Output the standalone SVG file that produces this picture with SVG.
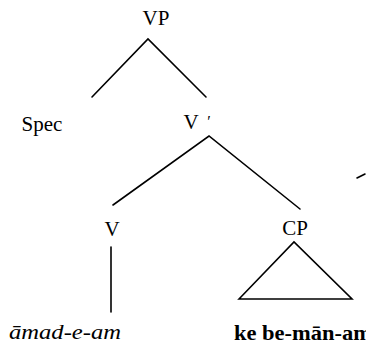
<svg xmlns="http://www.w3.org/2000/svg" width="366" height="348" viewBox="0 0 366 348">
<style>
text{font-family:"Liberation Serif","Times New Roman","DejaVu Serif",serif;font-size:21px;fill:#000}
.lbl{text-anchor:middle}
.it{font-style:italic}
.bd{font-weight:bold}
.e{stroke:#000;stroke-width:1.6;fill:none;stroke-linecap:round}
</style>
<rect width="366" height="348" fill="#fff"/>
<g id="connectors">
<path class="e" d="M92 97 L148 39 L206 97"/>
<path class="e" d="M113 205 L209 136 L300 209"/>
<path class="e" d="M111 247 L111 312"/>
<path class="e" d="M239 299 L294 242 L352 299 Z"/>
<path class="e" d="M357 178 L365 174"/>
</g>
<g id="VP"><text class="lbl" x="156" y="25">VP</text></g>
<g id="Spec"><text class="lbl" x="42" y="131">Spec</text></g>
<g id="Vbar"><text class="lbl" x="191" y="129">V</text><text class="lbl" x="209" y="127" style="font-size:16px">′</text></g>
<g id="V"><text class="lbl" x="112" y="236">V</text></g>
<g id="CP"><text class="lbl" x="295" y="235">CP</text></g>
<g id="leaf1"><text class="it" x="9" y="339" textLength="112" lengthAdjust="spacingAndGlyphs">āmad-e-am</text></g>
<g id="leaf2"><text class="bd" x="234" y="340" textLength="138" lengthAdjust="spacingAndGlyphs">ke be-mān-am</text></g>
</svg>
